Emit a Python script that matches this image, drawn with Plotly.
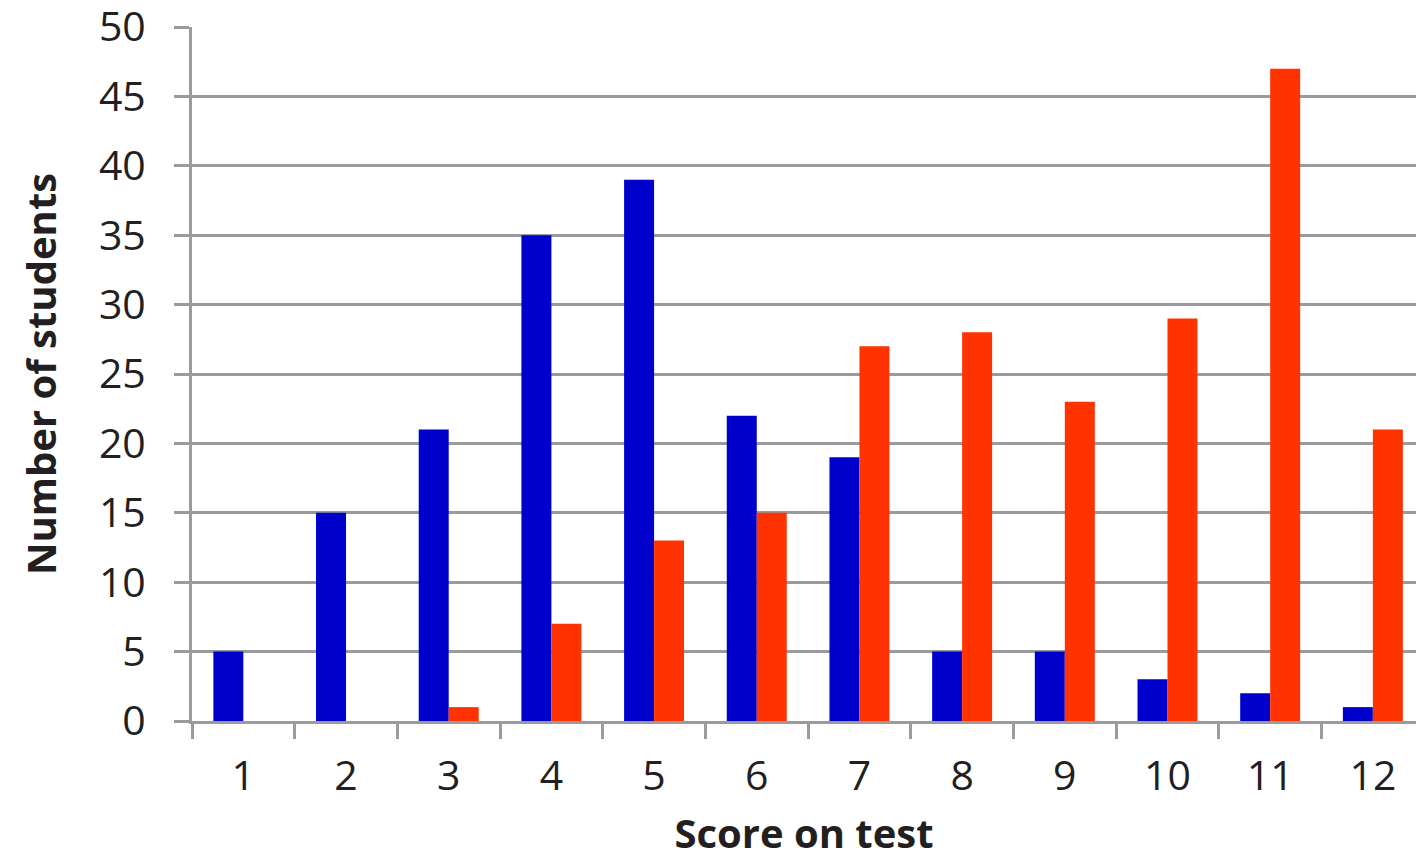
import plotly.graph_objects as go

scores = [str(i) for i in range(1, 13)]
blue_values = [5, 15, 21, 35, 39, 22, 19, 5, 5, 3, 2, 1]
red_values = [0, 0, 1, 7, 13, 15, 27, 28, 23, 29, 47, 21]
y_ticks = [0, 5, 10, 15, 20, 25, 30, 35, 40, 45, 50]

GRID = "#999b9e"
FONT = "Open Sans"
TXT = "#231f20"

fig = go.Figure()
fig.add_trace(go.Bar(x=scores, y=blue_values, marker=dict(color="#0000CC", line=dict(width=0)), name="Before"))
fig.add_trace(go.Bar(x=scores, y=red_values, marker=dict(color="#FF3300", line=dict(width=0)), name="After"))

fig.update_layout(
    width=1416, height=860,
    margin=dict(l=192, r=0, t=27, b=139),
    paper_bgcolor="white", plot_bgcolor="white",
    barmode="group", bargap=0.416, bargroupgap=0,
    showlegend=False,
    font=dict(family=FONT, color=TXT),
)
fig.update_xaxes(
    type="category", range=[-0.5, 11.42], automargin=False,
    tickson="boundaries", ticks="outside", ticklen=15, tickwidth=3, tickcolor=GRID,
    showline=True, linecolor=GRID, linewidth=3,
    showgrid=False, ticklabeloverflow="allow",
    tickfont=dict(size=41, family=FONT, color=TXT),
    ticklabelstandoff=17,
    title=dict(text="<b>Score on test</b>", font=dict(size=40, family=FONT, color=TXT), standoff=21),
)
fig.update_yaxes(
    range=[0, 50], tickvals=y_ticks, automargin=False,
    ticks="outside", ticklen=15, tickwidth=3, tickcolor=GRID,
    showline=True, linecolor=GRID, linewidth=3,
    showgrid=True, gridcolor=GRID, gridwidth=3, zeroline=False,
    ticklabeloverflow="allow",
    tickfont=dict(size=41, family=FONT, color=TXT),
    ticklabelstandoff=20,
    title=dict(text="<b>Number of students</b>", font=dict(size=40, family=FONT, color=TXT), standoff=30),
)

fig.write_html(
    "out.html",
    config={"displayModeBar": False},
    post_script="document.body.style.margin='0';document.body.style.overflow='hidden';",
)
